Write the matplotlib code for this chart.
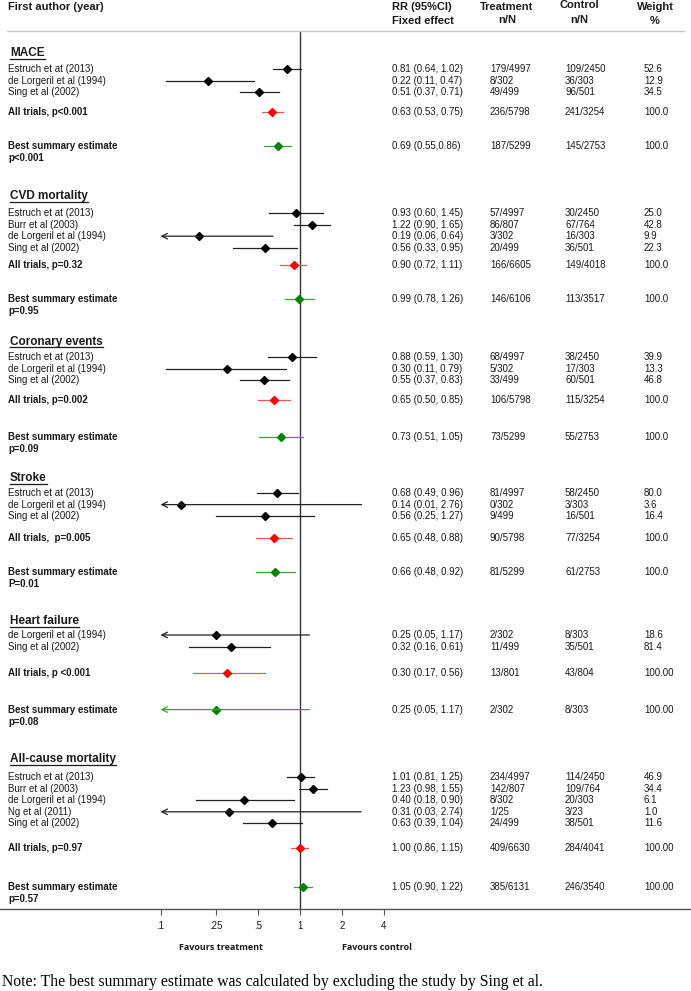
import matplotlib
matplotlib.use("Agg")
import matplotlib.pyplot as plt
from matplotlib.lines import Line2D
from matplotlib.ticker import NullLocator
from matplotlib.transforms import blended_transform_factory

W, H = 691, 991

outcomes = ["MACE", "CVD mortality", "Coronary events", "Stroke",
            "Heart failure", "All-cause mortality"]

studies = [
    ["Estruch et at (2013)", "de Lorgeril et al (1994)", "Sing et al (2002)"],
    ["Estruch et at (2013)", "Burr et al (2003)", "de Lorgeril et al (1994)", "Sing et al (2002)"],
    ["Estruch et at (2013)", "de Lorgeril et al (1994)", "Sing et al (2002)"],
    ["Estruch et at (2013)", "de Lorgeril et al (1994)", "Sing et al (2002)"],
    ["de Lorgeril et al (1994)", "Sing et al (2002)"],
    ["Estruch et at (2013)", "Burr et al (2003)", "de Lorgeril et al (1994)",
     "Ng et al (2011)", "Sing et al (2002)"],
]
rr = [
    [0.81, 0.22, 0.51],
    [0.93, 1.22, 0.19, 0.56],
    [0.88, 0.30, 0.55],
    [0.68, 0.14, 0.56],
    [0.25, 0.32],
    [1.01, 1.23, 0.40, 0.31, 0.63],
]
ci_low = [
    [0.64, 0.11, 0.37],
    [0.60, 0.90, 0.06, 0.33],
    [0.59, 0.11, 0.37],
    [0.49, 0.01, 0.25],
    [0.05, 0.16],
    [0.81, 0.98, 0.18, 0.03, 0.39],
]
ci_high = [
    [1.02, 0.47, 0.71],
    [1.45, 1.65, 0.64, 0.95],
    [1.30, 0.79, 0.83],
    [0.96, 2.76, 1.27],
    [1.17, 0.61],
    [1.25, 1.55, 0.90, 2.74, 1.04],
]
treat = [
    ["179/4997", "8/302", "49/499"],
    ["57/4997", "86/807", "3/302", "20/499"],
    ["68/4997", "5/302", "33/499"],
    ["81/4997", "0/302", "9/499"],
    ["2/302", "11/499"],
    ["234/4997", "142/807", "8/302", "1/25", "24/499"],
]
control = [
    ["109/2450", "36/303", "96/501"],
    ["30/2450", "67/764", "16/303", "36/501"],
    ["38/2450", "17/303", "60/501"],
    ["58/2450", "3/303", "16/501"],
    ["8/303", "35/501"],
    ["114/2450", "109/764", "20/303", "3/23", "38/501"],
]
weight = [
    ["52.6", "12.9", "34.5"],
    ["25.0", "42.8", "9.9", "22.3"],
    ["39.9", "13.3", "46.8"],
    ["80.0", "3.6", "16.4"],
    ["18.6", "81.4"],
    ["46.9", "34.4", "6.1", "1.0", "11.6"],
]

pooled_label = ["All trials, p<0.001", "All trials, p=0.32", "All trials, p=0.002",
                "All trials,  p=0.005", "All trials, p <0.001", "All trials, p=0.97"]
pooled_rr = [0.63, 0.90, 0.65, 0.65, 0.30, 1.00]
pooled_low = [0.53, 0.72, 0.50, 0.48, 0.17, 0.86]
pooled_high = [0.75, 1.11, 0.85, 0.88, 0.56, 1.15]
pooled_treat = ["236/5798", "166/6605", "106/5798", "90/5798", "13/801", "409/6630"]
pooled_control = ["241/3254", "149/4018", "115/3254", "77/3254", "43/804", "284/4041"]
pooled_weight = ["100.0", "100.0", "100.0", "100.0", "100.00", "100.00"]

best_p = ["p<0.001", "p=0.95", "p=0.09", "P=0.01", "p=0.08", "p=0.57"]
best_rr = [0.69, 0.99, 0.73, 0.66, 0.25, 1.05]
best_low = [0.55, 0.78, 0.51, 0.48, 0.05, 0.90]
best_high = [0.86, 1.26, 1.05, 0.92, 1.17, 1.22]
best_sep = [",", ", ", ", ", ", ", ", ", ", "]
best_treat = ["187/5299", "146/6106", "73/5299", "81/5299", "2/302", "385/6131"]
best_control = ["145/2753", "113/3517", "55/2753", "61/2753", "8/303", "246/3540"]
best_weight = ["100.0", "100.0", "100.0", "100.0", "100.00", "100.00"]

ticks = [0.1, 0.25, 0.5, 1, 2, 4]
tick_labels = [".1", ".25", ".5", "1", "2", "4"]

# layout (pixel rows of the original picture)
section_top = [52, 195, 341, 477, 620, 758]
first_gap = [17, 18, 16, 16, 15, 19]
pooled_gap = [20, 17, 20, 22, 26, 25]
best_gap = [34, 34, 37, 34, 37, 39]
step = 11.6
clip_low = 0.1

plt.rcParams["font.family"] = ["Liberation Sans", "DejaVu Sans"]
TXT = "#1a1a1a"

fig = plt.figure(figsize=(W / 100, H / 100), dpi=100)
ax = fig.add_axes([0, 1 - 909 / H, 1, (909 - 31) / H])
ax.set_xscale("log")
ax.set_xlim(10 ** (-300 / 139.5), 10 ** (391 / 139.5))
ax.set_ylim(909, 31)
ax.patch.set_alpha(0)
for s in ["top", "left", "right"]:
    ax.spines[s].set_visible(False)
ax.spines["bottom"].set_color("#555555")
ax.spines["bottom"].set_linewidth(1.0)
ax.set_yticks([])
ax.set_xticks(ticks)
ax.set_xticklabels(tick_labels)
ax.xaxis.set_minor_locator(NullLocator())
ax.tick_params(axis="x", direction="out", length=4.5, width=0.8, color="#555555",
               pad=4, labelsize=7, labelcolor=TXT)
ax.axvline(1, color="#333333", lw=1.0)

tr = blended_transform_factory(fig.transFigure, ax.transData)


def fy(py):
    return 1 - py / H


def put(x, y, s, **kw):
    kw.setdefault("fontsize", 7)
    kw.setdefault("color", TXT)
    ax.text(x / W, y, s, transform=tr, va="center", **kw)


def draw_ci(est, lo, hi, y, line_c, mark_c):
    if lo < clip_low:
        ax.annotate("", xy=(clip_low, y), xytext=(hi, y),
                    arrowprops=dict(arrowstyle="->,head_length=0.4,head_width=0.2",
                                    color=line_c, lw=0.9, shrinkA=0, shrinkB=0))
    else:
        ax.plot([lo, hi], [y, y], color=line_c, lw=0.9)
    ax.plot(est, y, "D", ms=4.3, color=mark_c, mec=mark_c)


def columns(y, ci_text, t, c, w):
    put(392, y, ci_text)
    put(490, y, t)
    put(565, y, c)
    put(644, y, w)


headings = []
for k, name in enumerate(outcomes):
    top = section_top[k]
    h = ax.text(10 / W, top + 4, name, transform=tr, va="baseline",
                fontsize=8.5, fontweight="bold", color=TXT)
    headings.append((h, top + 4))
    y = top + first_gap[k]
    for j, study in enumerate(studies[k]):
        put(8, y, study)
        draw_ci(rr[k][j], ci_low[k][j], ci_high[k][j], y, "#222222", "black")
        columns(y, f"{rr[k][j]:.2f} ({ci_low[k][j]:.2f}, {ci_high[k][j]:.2f})",
                treat[k][j], control[k][j], weight[k][j])
        y += step
    y += pooled_gap[k] - step
    put(8, y, pooled_label[k], fontweight="bold")
    draw_ci(pooled_rr[k], pooled_low[k], pooled_high[k], y, "#ee5555", "#ff0000")
    columns(y, f"{pooled_rr[k]:.2f} ({pooled_low[k]:.2f}, {pooled_high[k]:.2f})",
            pooled_treat[k], pooled_control[k], pooled_weight[k])
    y += best_gap[k]
    put(8, y, "Best summary estimate", fontweight="bold")
    put(8, y + 12, best_p[k], fontweight="bold")
    draw_ci(best_rr[k], best_low[k], best_high[k], y, "#3f9f3f", "#008000")
    columns(y, f"{best_rr[k]:.2f} ({best_low[k]:.2f}{best_sep[k]}{best_high[k]:.2f})",
            best_treat[k], best_control[k], best_weight[k])

# column headers
hdr = dict(fontsize=8, fontweight="bold", color=TXT, va="center")
fig.text(8 / W, fy(7), "First author (year)", **hdr)
fig.text(392 / W, fy(7), "RR (95%CI)", **hdr)
fig.text(392 / W, fy(21), "Fixed effect", **hdr)
fig.text(507 / W, fy(7), "Treatment", ha="center", **hdr)
fig.text(507 / W, fy(20), "n/N", ha="center", **hdr)
fig.text(579 / W, fy(5), "Control", ha="center", **hdr)
fig.text(579 / W, fy(20), "n/N", ha="center", **hdr)
fig.text(655 / W, fy(7), "Weight", ha="center", **hdr)
fig.text(655 / W, fy(21), "%", ha="center", **hdr)
fig.add_artist(Line2D([7 / W, 684 / W], [fy(31), fy(31)], transform=fig.transFigure,
                      color="#c8c8c8", lw=1.0))

fig.text(221 / W, fy(948), "Favours treatment", ha="center", va="center",
         fontsize=6.5, fontweight="bold", family=["Open Sans", "DejaVu Sans"], color=TXT)
fig.text(377 / W, fy(948), "Favours control", ha="center", va="center",
         fontsize=6.5, fontweight="bold", family=["Open Sans", "DejaVu Sans"], color=TXT)
fig.text(2 / W, fy(982), "Note: The best summary estimate was calculated by excluding the study by Sing et al.",
         va="center", fontsize=11.3, family=["Liberation Serif", "DejaVu Serif"], color="black")

# underline the outcome headings
fig.canvas.draw()
for h, base in headings:
    bb = h.get_window_extent()
    yb = fy(base + 2.5)
    fig.add_artist(Line2D([bb.x0 / W, bb.x1 / W], [yb, yb], transform=fig.transFigure,
                          color=TXT, lw=0.9))

fig.savefig("out.png", dpi=100)
